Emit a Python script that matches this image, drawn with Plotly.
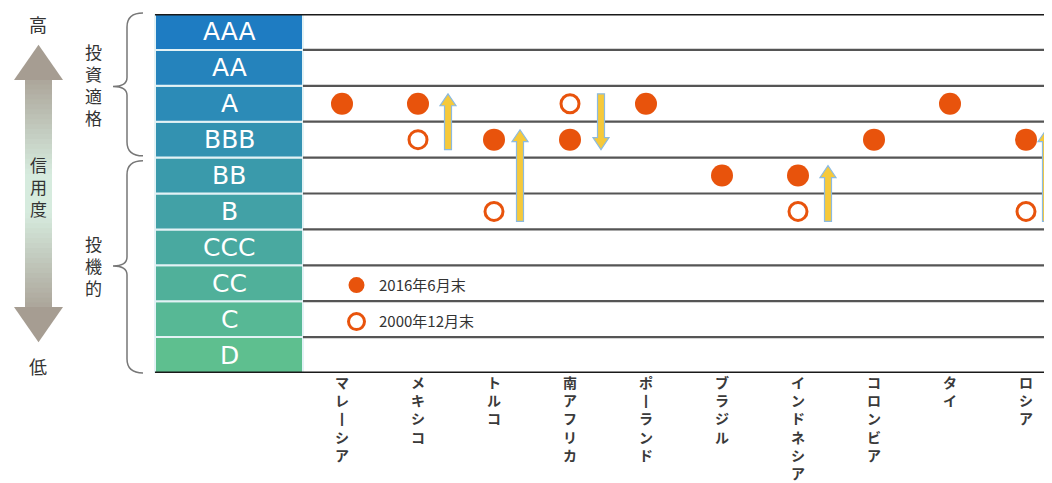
import plotly.graph_objects as go

# ---------------- data ----------------
countries = ["マレーシア", "メキシコ", "トルコ", "南アフリカ", "ポーランド",
             "ブラジル", "インドネシア", "コロンビア", "タイ", "ロシア"]
ratings = ["D", "C", "CC", "CCC", "B", "BB", "BBB", "A", "AA", "AAA"]  # low -> high
rating_2016 = ["A", "A", "BBB", "BBB", "A", "BB", "BB", "BBB", "A", "BBB"]
rating_2000 = [None, "BBB", "B", "A", None, None, "B", None, None, "B"]
series_names = ["2016年6月末", "2000年12月末"]
side_labels = {"top": "高", "bottom": "低", "axis": "信用度",
               "invest": "投資適格", "spec": "投機的"}

# ---------------- geometry (reference pixel frame) ----------------
REF_W, REF_H = 1052, 483
BODY = 8                      # default page margin of the html body
W, H = REF_W - BODY, REF_H - BODY
PL, PT, PR, PB = 155, 14, 1052, 376    # plot area in reference pixels
ML, MT, MR, MB = PL - BODY, PT - BODY, REF_W - PR, REF_H - PB
PW, PH = PR - PL, PB - PT
first_px, step_px = 342, 76
x_lo = (PL - first_px) / step_px
x_hi = (PR - first_px) / step_px
y_lo, y_hi = -0.5, len(ratings) - 0.5
XU = (x_hi - x_lo) / PW          # x data units per pixel
YU = (y_hi - y_lo) / PH          # y data units per pixel


def pxx(px):
    return (px - PL) / PW


def pxy(py):
    return (PB - py) / PH


JP = "Noto Sans CJK JP"
ORANGE = "#e8530c"
FONT_COL = "#333333"

fig = go.Figure()

fig.add_trace(go.Scatter(
    x=countries, y=rating_2016, mode="markers", name=series_names[0],
    legendgroup="a",
    marker=dict(size=22, color=ORANGE, line=dict(width=0)),
))
xo = [c for c, r in zip(countries, rating_2000) if r]
yo = [r for r in rating_2000 if r]
fig.add_trace(go.Scatter(
    x=xo, y=yo, mode="markers", name=series_names[1], legendgroup="b",
    marker=dict(size=18, color="white", line=dict(width=3, color=ORANGE)),
))

shapes = []
annotations = []

# rating column cells
c_top = (0x1e, 0x7c, 0xc2)
c_bot = (0x5e, 0xbf, 0x8f)
n = len(ratings)
col_right = pxx(303)
for i, r in enumerate(ratings):
    t = i / (n - 1)
    col = tuple(round(c_bot[k] + (c_top[k] - c_bot[k]) * t) for k in range(3))
    shapes.append(dict(type="rect", xref="paper", yref="y", x0=0, x1=col_right,
                       y0=i - 0.5, y1=i + 0.5, fillcolor="rgb(%d,%d,%d)" % col,
                       line=dict(color="#e3f2f5", width=2), layer="below"))
    annotations.append(dict(xref="paper", yref="y", x=col_right / 2, y=i,
                            text=r, showarrow=False, xanchor="center",
                            yanchor="middle",
                            font=dict(family="DejaVu Sans", size=25, color="white")))

# row lines
for i in range(n - 1):
    shapes.append(dict(type="line", xref="paper", yref="y", x0=col_right, x1=1,
                       y0=i + 0.5, y1=i + 0.5,
                       line=dict(color="#555555", width=2.2), layer="below"))
for yy in (y_lo, y_hi):
    shapes.append(dict(type="line", xref="paper", yref="y", x0=0, x1=1,
                       y0=yy, y1=yy, line=dict(color="#1a1a1a", width=3)))

# change arrows
arrow_dx = {"メキシコ": 30, "トルコ": 26, "南アフリカ": 31, "インドネシア": 30, "ロシア": 20}
for idx, (c, r0, r1) in enumerate(zip(countries, rating_2000, rating_2016)):
    if not r0 or r0 == r1:
        continue
    y0 = ratings.index(r0)
    y1 = ratings.index(r1)
    d = 1 if y1 > y0 else -1
    cx = idx + arrow_dx.get(c, 29) * XU
    tail = y0 - d * 10 * YU
    tip = y1 + d * 10 * YU
    neck = tip - d * 12 * YU
    sw, hw = 3.5 * XU, 8 * XU
    pts = [(cx - sw, tail), (cx - sw, neck), (cx - hw, neck), (cx, tip),
           (cx + hw, neck), (cx + sw, neck), (cx + sw, tail)]
    path = "M " + " L ".join("%.5f,%.5f" % p for p in pts) + " Z"
    shapes.append(dict(type="path", xref="x", yref="y", path=path,
                       fillcolor="#f6c93a", line=dict(color="#8cbadf", width=1.2)))

# left double arrow (gradient approximated with bands)
end_c = (172, 165, 154)
mid_c = (214, 235, 222)
top_s, bot_s = 80, 310
nb = 46
for b in range(nb):
    pa = top_s + (bot_s - top_s) * b / nb
    pb = top_s + (bot_s - top_s) * (b + 1) / nb
    pm = (pa + pb) / 2
    s = max(0.0, min(1.0, min(pm - top_s, bot_s - pm) / 95))
    col = tuple(round(end_c[k] + (mid_c[k] - end_c[k]) * s) for k in range(3))
    shapes.append(dict(type="rect", xref="paper", yref="paper",
                       x0=pxx(25), x1=pxx(52), y0=pxy(min(pb + 1.5, bot_s)), y1=pxy(pa),
                       fillcolor="rgb(%d,%d,%d)" % col, line=dict(width=0)))
head_col = "#a69d92"
for (base, tipy) in ((80.5, 45), (309.5, 345)):
    p = "M %f,%f L %f,%f L %f,%f Z" % (pxx(14), pxy(base), pxx(38.5), pxy(tipy),
                                       pxx(63), pxy(base))
    shapes.append(dict(type="path", xref="paper", yref="paper", path=p,
                       fillcolor=head_col, line=dict(width=0)))


# braces
def brace(ytop, ybot, ymid):
    xe, xm, xp = 143, 127, 113
    P = lambda x, y: "%f,%f" % (pxx(x), pxy(y))
    return ("M " + P(xe, ytop) + " Q " + P(xm, ytop) + " " + P(xm, ytop + 14) +
            " L " + P(xm, ymid - 9) + " Q " + P(xm, ymid) + " " + P(xp, ymid) +
            " Q " + P(xm, ymid) + " " + P(xm, ymid + 9) +
            " L " + P(xm, ybot - 14) + " Q " + P(xm, ybot) + " " + P(xe, ybot))


for (a, b, m) in ((13, 157, 87), (162, 376, 268)):
    shapes.append(dict(type="path", xref="paper", yref="paper", path=brace(a, b, m),
                       line=dict(color="#777777", width=1.5)))


def vtext(s):
    return "<br>".join("丨" if ch == "ー" else ch for ch in s)


for key, (x, y, sz) in {"top": (38, 24, 18), "bottom": (38, 369, 18),
                        "axis": (38, 188, 17), "invest": (93, 85, 17),
                        "spec": (93, 268, 17)}.items():
    annotations.append(dict(xref="paper", yref="paper", x=pxx(x), y=pxy(y),
                            text=vtext(side_labels[key]), showarrow=False,
                            xanchor="center", yanchor="middle",
                            font=dict(family=JP, size=sz, color=FONT_COL)))

fig.update_layout(
    width=W, height=H,
    margin=dict(l=ML, r=MR, t=MT, b=MB, pad=0),
    paper_bgcolor="white", plot_bgcolor="white",
    shapes=shapes, annotations=annotations,
    showlegend=True,
    legend=dict(x=pxx(334), y=pxy(271), xanchor="left", yanchor="top",
                bgcolor="rgba(0,0,0,0)", traceorder="grouped", tracegroupgap=14,
                itemwidth=35,
                font=dict(family=JP, size=15, color=FONT_COL)),
    xaxis=dict(type="category", categoryorder="array", categoryarray=countries,
               range=[x_lo, x_hi], showgrid=False, zeroline=False, showline=False,
               ticks="", tickangle=0, tickvals=countries,
               ticktext=[vtext(c) for c in countries],
               tickfont=dict(family=JP, size=14, color="#3a3a3a", weight="bold"),
               fixedrange=True),
    yaxis=dict(type="category", categoryorder="array", categoryarray=ratings,
               range=[y_lo, y_hi], showgrid=False, zeroline=False, showline=False,
               showticklabels=False, ticks="", fixedrange=True),
)

fig.write_html("out.html")
